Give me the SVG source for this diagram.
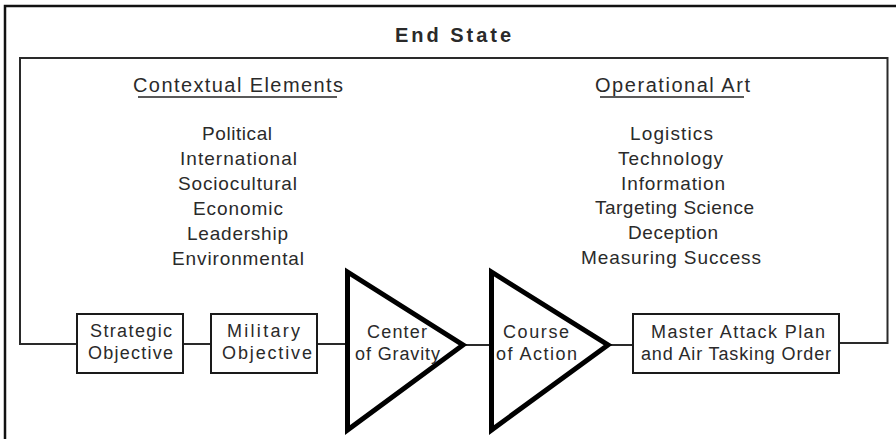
<svg xmlns="http://www.w3.org/2000/svg" width="896" height="439" viewBox="0 0 896 439">
<style>
text{font-family:"Liberation Sans",Arial,sans-serif;fill:#2a2a2a;text-anchor:middle}
.t{font-size:19px}
.h{font-size:20px}
.b{font-size:18px}
.frame{fill:none;stroke:#111;stroke-width:2.5}
.inner{fill:none;stroke:#2a2a2a;stroke-width:2}
.box{fill:#fff;stroke:#1a1a1a;stroke-width:2}
.tri{fill:#fff;stroke:#000;stroke-width:5;stroke-linejoin:miter}
.ul{stroke:#222;stroke-width:1.6}
</style>
<rect width="896" height="439" fill="#fff"/>
<g id="outer-frame">
<polyline class="frame" points="5,439 5,6 896,6"/>
</g>
<g id="end-state">
<text x="453" y="42" style="font-size:20px;font-weight:bold" textLength="116" lengthAdjust="spacing">End State</text>
</g>
<g id="connectors">
<polyline class="inner" points="76,344 20,344 20,58 887.5,58 887.5,343 839,343"/>
<line class="inner" x1="183" y1="344" x2="211" y2="344"/>
<line class="inner" x1="317" y1="344" x2="347" y2="344"/>
<line class="inner" x1="465" y1="345" x2="491" y2="345"/>
<line class="inner" x1="610" y1="345" x2="633" y2="345"/>
</g>
<g id="contextual-elements">
<text class="h" x="238" y="92" textLength="210" lengthAdjust="spacing">Contextual Elements</text>
<line class="ul" x1="138" y1="97" x2="337" y2="97"/>
<text class="t" x="237" y="140" textLength="70" lengthAdjust="spacing">Political</text>
<text class="t" x="238.5" y="165" textLength="117" lengthAdjust="spacing">International</text>
<text class="t" x="237.5" y="190" textLength="119" lengthAdjust="spacing">Sociocultural</text>
<text class="t" x="238" y="215" textLength="90" lengthAdjust="spacing">Economic</text>
<text class="t" x="237.5" y="240" textLength="101" lengthAdjust="spacing">Leadership</text>
<text class="t" x="238" y="265" textLength="132" lengthAdjust="spacing">Environmental</text>
</g>
<g id="operational-art">
<text class="h" x="672.5" y="92" textLength="155" lengthAdjust="spacing">Operational Art</text>
<line class="ul" x1="600" y1="97" x2="744" y2="97"/>
<text class="t" x="671.5" y="140" textLength="83" lengthAdjust="spacing">Logistics</text>
<text class="t" x="670.5" y="165" textLength="105" lengthAdjust="spacing">Technology</text>
<text class="t" x="673" y="190" textLength="104" lengthAdjust="spacing">Information</text>
<text class="t" x="674.5" y="214" textLength="159" lengthAdjust="spacing">Targeting Science</text>
<text class="t" x="673" y="239" textLength="90" lengthAdjust="spacing">Deception</text>
<text class="t" x="671" y="264" textLength="180" lengthAdjust="spacing">Measuring Success</text>
</g>
<g id="strategic-objective">
<rect class="box" x="77" y="314" width="106" height="59"/>
<text class="b" x="131" y="337" textLength="82" lengthAdjust="spacing">Strategic</text>
<text class="b" x="130.5" y="359" textLength="85" lengthAdjust="spacing">Objective</text>
</g>
<g id="military-objective">
<rect class="box" x="211" y="314" width="106" height="59"/>
<text class="b" x="263.5" y="337" textLength="73" lengthAdjust="spacing">Military</text>
<text class="b" x="267" y="359" textLength="90" lengthAdjust="spacing">Objective</text>
</g>
<g id="center-of-gravity">
<polygon class="tri" points="347.5,272 347.5,430 463,345"/>
<text class="b" x="397" y="338" textLength="60" lengthAdjust="spacing">Center</text>
<text class="b" x="397.5" y="360" textLength="85" lengthAdjust="spacing">of Gravity</text>
</g>
<g id="course-of-action">
<polygon class="tri" points="491.5,272 491.5,430 608,345"/>
<text class="b" x="536" y="338" textLength="66" lengthAdjust="spacing">Course</text>
<text class="b" x="536.5" y="360" textLength="81" lengthAdjust="spacing">of Action</text>
</g>
<g id="master-attack-plan">
<rect class="box" x="633" y="314" width="206" height="59"/>
<text class="b" x="738" y="338" textLength="174" lengthAdjust="spacing">Master Attack Plan</text>
<text class="b" x="736" y="360" textLength="190" lengthAdjust="spacing">and Air Tasking Order</text>
</g>
</svg>
